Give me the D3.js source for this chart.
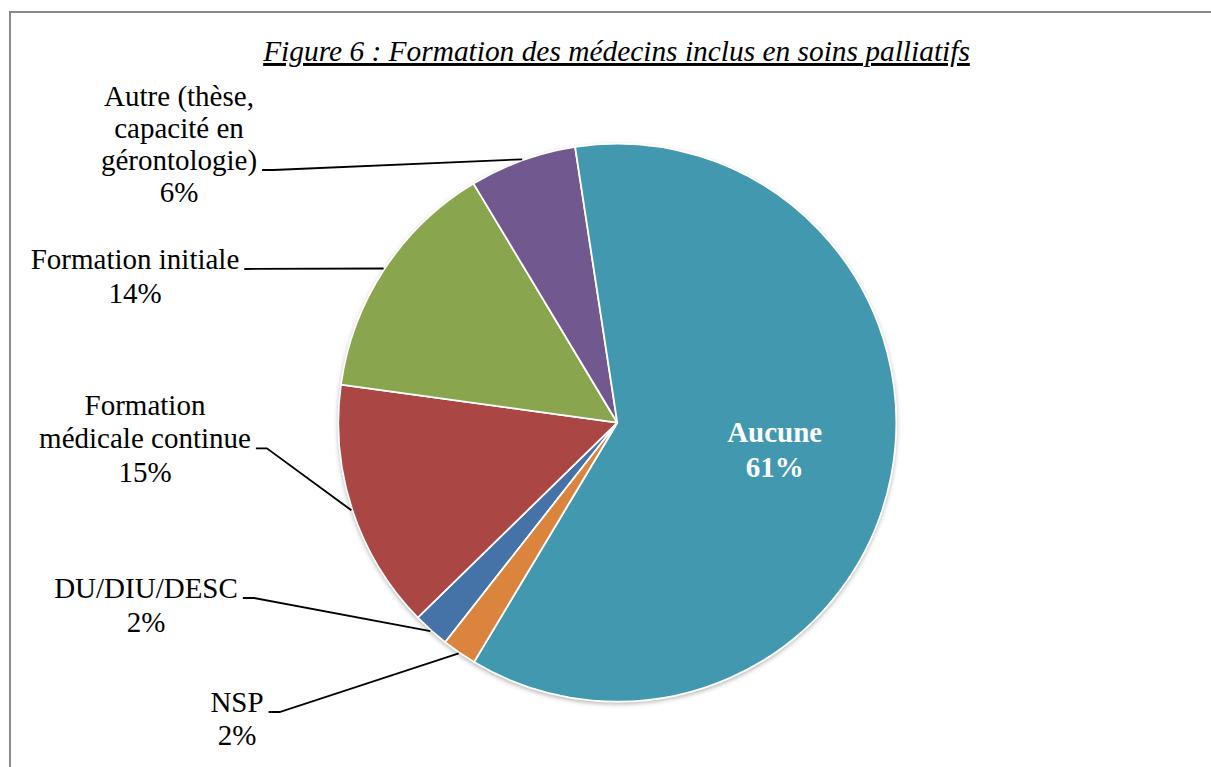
<!DOCTYPE html>
<html>
<head>
<meta charset="utf-8">
<script src="https://cdn.jsdelivr.net/npm/d3@7"></script>
<style>
  html, body { margin: 0; padding: 0; background: #fff; }
  svg { display: block; }
  text { font-family: "Liberation Serif", "Times New Roman", serif; }
</style>
</head>
<body>
<svg id="chart" width="1211" height="767"></svg>
<script>
// slices in drawing order (clockwise)
const categories = ['DU/DIU/DESC', 'Formation médicale continue', 'Formation initiale',
  'Autre (thèse, capacité en gérontologie)', 'Aucune', 'NSP'];
const values = [2.1, 14.5, 14.2, 6.2, 61.0, 2.0];
const colors = ['#4572A7', '#AA4643', '#89A54E', '#71588F', '#4198AF', '#DB843D'];
const labelLines = [
  ['DU/DIU/DESC'],
  ['Formation', 'médicale continue'],
  ['Formation initiale'],
  ['Autre (thèse,', 'capacité en', 'gérontologie)'],
  ['Aucune'],
  ['NSP']
];
const title = 'Figure 6 : Formation des médecins inclus en soins palliatifs';

// label layout: centre x, first baseline, line gap, which line the leader leaves from
const labelLayout = [
  { x: 146, y: 598, gap: 33.5, lead: 0 },
  { x: 145, y: 415, gap: 33.3, lead: 1 },
  { x: 135, y: 269, gap: 33.7, lead: 0 },
  { x: 179, y: 106, gap: 32, lead: 2 },
  null,
  { x: 237, y: 712, gap: 33.3, lead: 0 }
];

const svg = d3.select('#chart');
const cx = 617.3, cy = 422.7, r = 279;
const fontSize = 29;
const startDeg = 218.1;

// frame
svg.append('rect')
  .attr('x', 10).attr('y', 12)
  .attr('width', 1260).attr('height', 800)
  .attr('fill', 'none')
  .attr('stroke', '#8a8a8a')
  .attr('stroke-width', 2);

// title
svg.append('text')
  .attr('x', 616.5).attr('y', 61)
  .attr('text-anchor', 'middle')
  .attr('font-size', 29.4)
  .attr('font-style', 'italic')
  .attr('text-decoration', 'underline')
  .attr('fill', '#000')
  .text(title);

const defs = svg.append('defs');
defs.append('filter').attr('id', 'shadow')
  .attr('x', '-10%').attr('y', '-10%').attr('width', '120%').attr('height', '120%')
  .append('feDropShadow')
  .attr('dx', 0).attr('dy', 2)
  .attr('stdDeviation', 2.5)
  .attr('flood-color', '#000')
  .attr('flood-opacity', 0.35);

const pie = d3.pie().sort(null)
  .startAngle(startDeg * Math.PI / 180)
  .endAngle((startDeg + 360) * Math.PI / 180);
const arcs = pie(values);
const arc = d3.arc().innerRadius(0).outerRadius(r);

const g = svg.append('g').attr('transform', `translate(${cx},${cy})`);

g.append('circle').attr('r', r).attr('fill', '#fff').attr('filter', 'url(#shadow)');

g.selectAll('path.slice')
  .data(arcs)
  .join('path')
  .attr('class', 'slice')
  .attr('d', arc)
  .attr('fill', (d, i) => colors[i])
  .attr('stroke', '#fff')
  .attr('stroke-width', 1.8)
  .attr('stroke-linejoin', 'round');

const pct = v => Math.round(v) + '%';

// inside label (Aucune)
const inside = d3.arc().innerRadius(0).outerRadius(r * 1.15);
arcs.forEach((d, i) => {
  if (labelLayout[i]) return;
  const [x, y] = inside.centroid(d);
  const t = g.append('text')
    .attr('text-anchor', 'middle')
    .attr('font-size', fontSize)
    .attr('font-weight', 'bold')
    .attr('fill', '#fff');
  t.append('tspan').attr('x', x).attr('y', y - 11.5).text(labelLines[i][0]);
  t.append('tspan').attr('x', x).attr('y', y - 11.5 + 34.5).text(pct(values[i]));
});

// outside labels + leader lines
arcs.forEach((d, i) => {
  const pos = labelLayout[i];
  if (!pos) return;
  const lines = labelLines[i].concat([pct(values[i])]);
  const t = svg.append('text')
    .attr('text-anchor', 'middle')
    .attr('font-size', fontSize)
    .attr('fill', '#000');
  const spans = lines.map((s, k) =>
    t.append('tspan').attr('x', pos.x).attr('y', pos.y + k * pos.gap).text(s));

  const w = spans[pos.lead].node().getComputedTextLength();
  const x0 = pos.x + w / 2 + 5;
  const y0 = pos.y + pos.lead * pos.gap;
  const mid = (d.startAngle + d.endAngle) / 2;
  const x2 = cx + Math.sin(mid) * (r + 1);
  const y2 = cy - Math.cos(mid) * (r + 1);
  const pts = Math.abs(y2 - y0) < 3 ? [[x0, y0], [x2, y2]] : [[x0, y0], [x0 + 11, y0], [x2, y2]];
  svg.append('path')
    .attr('d', d3.line()(pts))
    .attr('fill', 'none')
    .attr('stroke', '#000')
    .attr('stroke-width', 1.8);
});
</script>
</body>
</html>
